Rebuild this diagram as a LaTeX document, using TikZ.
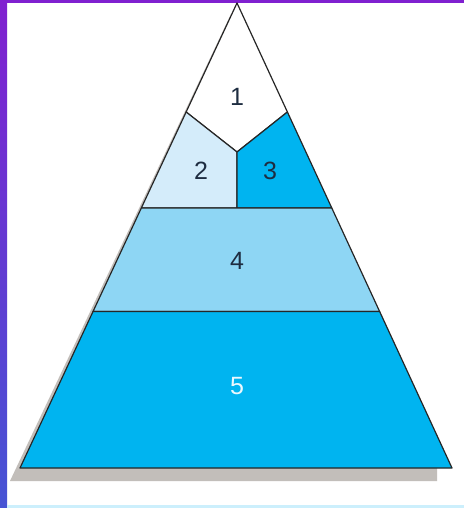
\documentclass[tikz,border=0pt]{standalone}
\usepackage{fontspec}
\setsansfont{Liberation Sans}
\usetikzlibrary{calc}
\definecolor{frameviolet}{RGB}{128,32,208}
\definecolor{frameblue}{RGB}{70,84,212}
\definecolor{paleblue}{RGB}{212,236,250}
\definecolor{skyblue}{RGB}{142,214,244}
\definecolor{deepblue}{RGB}{0,180,240}
\definecolor{shadowgrey}{RGB}{194,190,186}
\definecolor{digitnavy}{RGB}{30,45,65}

\begin{document}
\begin{tikzpicture}[
  x=1pt, y=-1pt,
  layer/.style={
    draw=black!85, line width=1.2pt, line join=round
  },
  numlabel/.style={
    font=\sffamily\fontsize{25}{30}\selectfont,
    text=digitnavy, inner sep=0pt
  }
]
\useasboundingbox (0,0) rectangle (464,508);
\fill[white] (0,0) rectangle (464,508);

% frame
\shade[top color=frameviolet, bottom color=frameblue] (0,0) rectangle (7,508);
\fill[frameviolet] (0,0) rectangle (464,3);
\fill[cyan!20] (7,505) rectangle (464,508);

% corners of the pyramid
\coordinate (apex) at (237,3);
\coordinate (bl) at (20,468);
\coordinate (br) at (452,468);
\coordinate (mid) at (237,152);

\coordinate (l1) at ($(apex)!0.2344!(bl)$);
\coordinate (r1) at ($(apex)!0.2344!(br)$);
\coordinate (l2) at ($(apex)!0.4409!(bl)$);
\coordinate (r2) at ($(apex)!0.4409!(br)$);
\coordinate (l3) at ($(apex)!0.6634!(bl)$);
\coordinate (r3) at ($(apex)!0.6634!(br)$);

% shadow
\fill[shadowgrey] (231,14) -- (10,481) -- (437,481) -- (437,468) -- cycle;

% layers
\filldraw[layer, fill=white] (apex) -- (r1) -- (mid) -- (l1) -- cycle;
\filldraw[layer, fill=paleblue] (l1) -- (mid) -- (mid |- l2) -- (l2) -- cycle;
\filldraw[layer, fill=deepblue] (mid) -- (r1) -- (r2) -- (mid |- l2) -- cycle;
\filldraw[layer, fill=skyblue] (l2) -- (r2) -- (r3) -- (l3) -- cycle;
\filldraw[layer, fill=deepblue] (l3) -- (r3) -- (br) -- (bl) -- cycle;

% numbers
\node[numlabel] (n1) at (237,97) {1};
\node[numlabel] (n2) at (201,171) {2};
\node[numlabel] (n3) at (270,171) {3};
\node[numlabel] (n4) at (237,261) {4};
\node[numlabel, text=cyan!8] (n5) at (237,386) {5};

\end{tikzpicture}
\end{document}
